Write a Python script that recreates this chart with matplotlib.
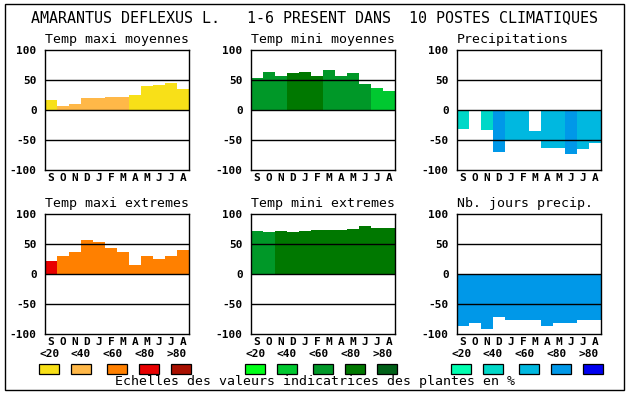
import matplotlib
matplotlib.use('Agg')
import matplotlib.pyplot as plt
from matplotlib.patches import Rectangle

W, H = 630, 394

months = ['S', 'O', 'N', 'D', 'J', 'F', 'M', 'A', 'M', 'J', 'J', 'A']
scale_labels = ['<20', '<40', '<60', '<80', '>80']

warm = ['#f8e018', '#ffb848', '#ff8000', '#e80000', '#a81000']
green = ['#00ff18', '#00c830', '#009828', '#007800', '#006018']
blue = ['#00ffb0', '#00d8c8', '#00b8e0', '#0098e8', '#0000f0']

# valeurs (hauteur des barres) et classe de couleur (0..4) par mois
tmax_moy = [17, 7, 10, 20, 20, 22, 22, 25, 40, 42, 45, 35]
tmax_moy_cls = [0, 1, 1, 1, 1, 1, 1, 0, 0, 0, 0, 0]

tmin_moy = [54, 64, 56, 61, 64, 56, 66, 56, 61, 44, 37, 32]
tmin_moy_cls = [2, 2, 2, 3, 3, 3, 2, 2, 2, 2, 1, 1]

precip = [-31, 0, -33, -70, -51, -51, -51, -63, -63, -73, -65, -55]
precip_blank = [0, 0, 0, 0, 0, 0, -35, 0, 0, 0, 0, 0]
precip_cls = [1, 1, 1, 3, 2, 2, 2, 2, 2, 3, 2, 2]

tmax_ext = [22, 30, 37, 57, 54, 44, 37, 15, 30, 25, 30, 40]
tmax_ext_cls = [3, 2, 2, 2, 2, 2, 2, 2, 2, 2, 2, 2]

tmin_ext = [72, 70, 72, 70, 72, 73, 73, 73, 75, 80, 77, 77]
tmin_ext_cls = [2, 2, 3, 3, 3, 3, 3, 3, 3, 3, 3, 3]

njours = [-86, -81, -92, -72, -76, -77, -76, -87, -82, -82, -76, -76]
njours_cls = [3] * 12

mono = 'DejaVu Sans Mono'

fig = plt.figure(figsize=(W / 100, H / 100), dpi=100)
fig.patch.set_facecolor('white')


def fx(px):
    return px / W


def fy(py):
    return 1 - py / H


def panel(left, top, title, vals, cls, pal, blank=None):
    ax = fig.add_axes([fx(left), fy(top + 120), fx(144), 120 / H])
    x = list(range(12))
    cols = [pal[c] for c in cls]
    ax.bar(x, vals, width=1.0, color=cols, linewidth=0, zorder=1)
    if blank is not None:
        ax.bar(x, blank, width=1.0, color='white', linewidth=0, zorder=1.5)
    for yv in (50, 0, -50):
        ax.axhline(yv, color='black', lw=1.0, zorder=3)
    ax.set_xlim(-0.5, 11.5)
    ax.set_ylim(-100, 100)
    ax.set_yticks([100, 50, 0, -50, -100])
    ax.set_yticklabels(['100', '50', '0', '-50', '-100'],
                       fontfamily=mono, fontweight='bold', fontsize=8)
    ax.set_xticks(x)
    ax.set_xticklabels(months, fontfamily=mono, fontweight='bold', fontsize=8)
    ax.tick_params(length=0)
    ax.tick_params(axis='y', pad=6)
    ax.tick_params(axis='x', pad=2)
    for s in ax.spines.values():
        s.set_linewidth(1.0)
    fig.text(fx(left), fy(top - 11), title, fontfamily=mono, fontsize=9.5,
             ha='left', va='center')
    return ax


lefts = [45, 251, 457]
panel(lefts[0], 50, 'Temp maxi moyennes', tmax_moy, tmax_moy_cls, warm)
panel(lefts[1], 50, 'Temp mini moyennes', tmin_moy, tmin_moy_cls, green)
panel(lefts[2], 50, 'Precipitations', precip, precip_cls, blue, precip_blank)
panel(lefts[0], 214, 'Temp maxi extremes', tmax_ext, tmax_ext_cls, warm)
panel(lefts[1], 214, 'Temp mini extremes', tmin_ext, tmin_ext_cls, green)
panel(lefts[2], 214, 'Nb. jours precip.', njours, njours_cls, blue)

# echelles de couleur
sw_off = [-6, 26, 62, 94, 126]
lab_off = [5, 36, 68, 100, 132]
for left, pal in zip(lefts, [warm, green, blue]):
    for i in range(5):
        fig.patches.append(Rectangle((fx(left + sw_off[i]), fy(374)), fx(20), 10 / H,
                                     facecolor=pal[i], edgecolor='black', lw=0.9,
                                     transform=fig.transFigure, figure=fig))
        fig.text(fx(left + lab_off[i]), fy(354), scale_labels[i], fontfamily=mono,
                 fontweight='bold', fontsize=8, ha='center', va='center')

fig.text(fx(31), fy(18), 'AMARANTUS DEFLEXUS L.   1-6 PRESENT DANS  10 POSTES CLIMATIQUES',
         fontfamily=mono, fontsize=10.8, ha='left', va='center')
fig.text(fx(315), fy(382), 'Echelles des valeurs indicatrices des plantes en %',
         fontfamily=mono, fontsize=9.5, ha='center', va='center')

fig.patches.append(Rectangle((fx(5), fy(390)), fx(619), 386 / H, facecolor='none',
                             edgecolor='black', lw=1.0, transform=fig.transFigure,
                             figure=fig))

fig.savefig('out.png', dpi=100)
